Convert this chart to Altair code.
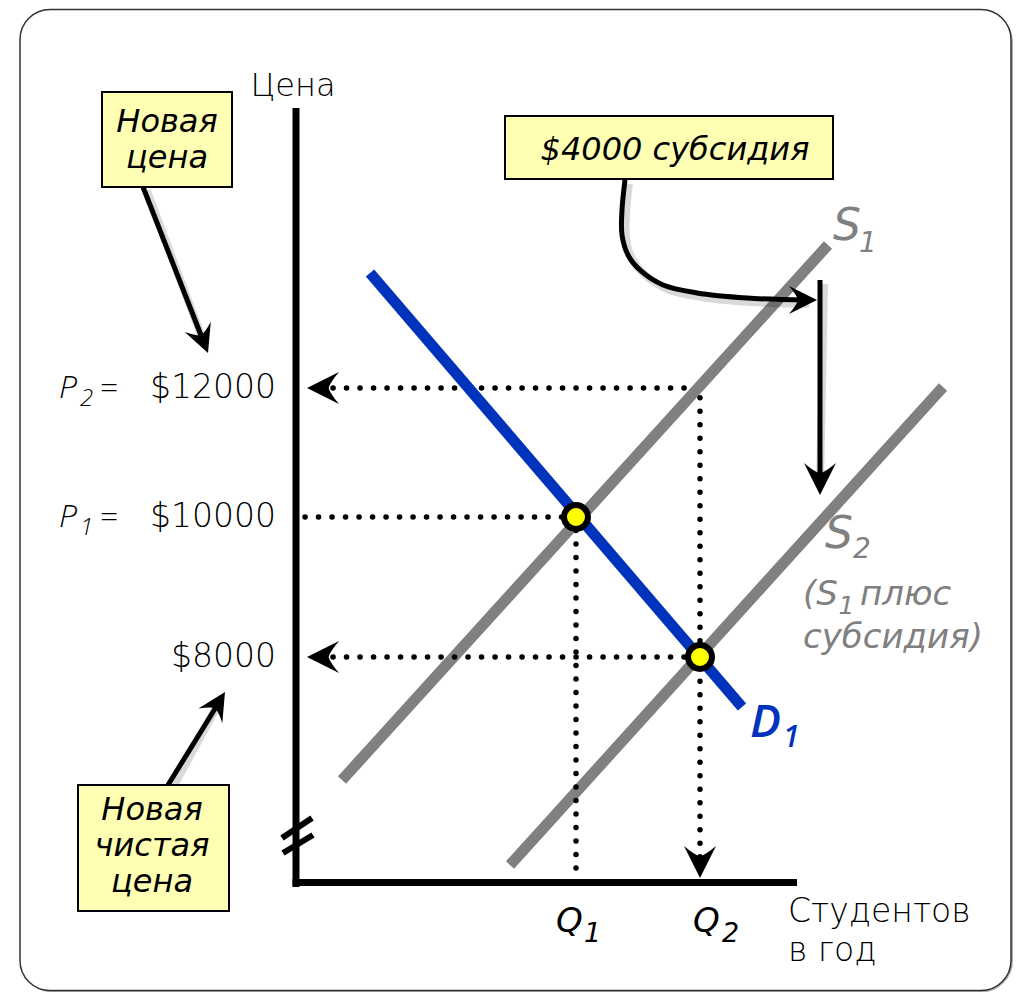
import altair as alt
import pandas as pd

# ---------------- values ----------------
# quantity axis (students / year) and price axis ($) as drawn
Q_DOMAIN = [-1440, 3595]
P_DOMAIN = [3214, 8000, 10000, 12000, 17891]
P_RANGE = [984, 649, 509, 380, 0]

Q1, Q2 = 1400, 2020
P_NEW, P_OLD, P_NET = 12000, 10000, 8000
P_AXIS = 4780
P_AXIS_TOP = 16341
Q_AXIS_END = 2505

# supply / demand curves (endpoints)
S1_Q = [230, 2660]
S1_P = [6243, 14217]
S2_Q = [1070, 3235]
S2_P = [5029, 12016]
D1_Q = [370, 2230]
D1_P = [13783, 7286]

# equilibria
EQ_Q = [Q1, Q2]
EQ_P = [P_OLD, P_NET]

# dotted guide lines
DOT_Q = [185, Q2, 45, Q1, 185]
DOT_P = [P_NEW, 11850, P_OLD, P_OLD, P_NET]
DOT_Q2 = [2000, Q2, Q1, Q1, Q2]
DOT_P2 = [P_NEW, 5143, P_OLD, 4814, P_NET]

# axis lines
AX_Q = [0, -17]
AX_P = [4714, P_AXIS]
AX_Q2 = [0, Q_AXIS_END]
AX_P2 = [P_AXIS_TOP, P_AXIS]

# axis break slashes
SL_Q = [-70, -65]
SL_P = [5414, 5200]
SL_Q2 = [80, 85]
SL_P2 = [5700, 5457]

# straight arrows (shaft)
AR_Q = [-765, -640, 2620]
AR_P = [15116, 6171, 13674]
AR_Q2 = [-455, -375, 2620]
AR_P2 = [12659, 7400, 10465]

# curved arrow from the subsidy box
CV_Q = [1645, 1630, 1630, 1660, 1725, 1835, 2005, 2255, 2545]
CV_P = [15225, 14760, 14372, 14062, 13814, 13597, 13473, 13395, 13364]

# arrow heads (tip, direction, size)
HD_Q = [55, 55, Q2, 2620, 2605, -440, -355]
HD_P = [P_NEW, P_NET, 4843, 10341, 13364, 12543, 7500]
HD_ANGLE = [180, 180, 90, 90, 0, 68.6, 301.5]
HD_SIZE = [1024, 1024, 1024, 1024, 784, 784, 784]

# note boxes
BOX_Q = [-970, 1045, -1090]
BOX_Q2 = [-320, 2685, -335]
BOX_P = [16589, 16217, 6171]
BOX_P2 = [15116, 15240, 4371]
BOX_TEXT = ["Новая\nцена", "$4000 субсидия", "Новая\nчистая\nцена"]
BOX_TQ = [-645, 1895, -720]
BOX_TP = [15969, 15535, 5671]

# frame
FR_Q, FR_Q2 = -1380, 3575
FR_P, FR_P2 = 17868, 3236

# price labels
PRICE_LEVELS = [P_NEW, P_OLD, P_NET]
PRICE_TEXT = ["$12000", "$10000", "$8000"]
PRICE_LABEL_Q = -100
PREFIX_LEVELS = [P_NEW, P_OLD]
PREFIX_SUB = ["2", "1"]

GRAY = "#808080"
BLUE = "#0033BB"
FONT = "DejaVu Sans"
FONT_B = "Open Sans"

XS = alt.Scale(domain=Q_DOMAIN, range=[0, 1007], nice=False, zero=False)
YS = alt.Scale(domain=P_DOMAIN, range=P_RANGE, nice=False, zero=False)


def X(f="q"):
    return alt.X(f + ":Q", scale=XS, axis=None)


def Y(f="p"):
    return alt.Y(f + ":Q", scale=YS, axis=None)


def segs(q, p, q2, p2):
    return pd.DataFrame({"q": q, "p": p, "q2": q2, "p2": p2})


def rules(df, **kw):
    return alt.Chart(df).mark_rule(**kw).encode(
        x=X(), y=Y(), x2=alt.X2("q2"), y2=alt.Y2("p2"))


def texts(q, p, t, **kw):
    df = pd.DataFrame({"q": q, "p": p, "t": t})
    base = dict(font=FONT, align="left", baseline="alphabetic")
    base.update(kw)
    return alt.Chart(df).mark_text(**base).encode(x=X(), y=Y(), text="t:N")


layers = []

# frame with shadow
frame = segs([FR_Q], [FR_P], [FR_Q2], [FR_P2])
layers.append(alt.Chart(frame).mark_rect(
    cornerRadius=30, fill="white", stroke="#9a9a9a", strokeWidth=4,
    xOffset=3, yOffset=3, opacity=0.8).encode(
    x=X(), y=Y(), x2=alt.X2("q2"), y2=alt.Y2("p2")))
layers.append(alt.Chart(frame).mark_rect(
    cornerRadius=30, fill="white", stroke="#333333", strokeWidth=1.5).encode(
    x=X(), y=Y(), x2=alt.X2("q2"), y2=alt.Y2("p2")))

# supply curves
layers.append(rules(segs([S1_Q[0], S2_Q[0]], [S1_P[0], S2_P[0]],
                         [S1_Q[1], S2_Q[1]], [S1_P[1], S2_P[1]]),
                    color=GRAY, strokeWidth=11))

# dotted guides
layers.append(rules(segs(DOT_Q, DOT_P, DOT_Q2, DOT_P2), color="black",
                    strokeWidth=5.5, strokeCap="round", strokeDash=[0.1, 13.4]))

# demand curve
layers.append(rules(segs([D1_Q[0]], [D1_P[0]], [D1_Q[1]], [D1_P[1]]),
                    color=BLUE, strokeWidth=11))

# axes and break
layers.append(rules(segs(AX_Q, AX_P, AX_Q2, AX_P2), color="black", strokeWidth=7))
layers.append(rules(segs(SL_Q, SL_P, SL_Q2, SL_P2), color="black", strokeWidth=6))

# equilibrium points
layers.append(alt.Chart(pd.DataFrame({"q": EQ_Q, "p": EQ_P})).mark_point(
    shape="circle", filled=True, fill="#FFFF00", stroke="black", strokeWidth=6,
    size=576, opacity=1).encode(x=X(), y=Y()))

# arrows: shadows then shafts
arr = segs(AR_Q, AR_P, AR_Q2, AR_P2)
curve = pd.DataFrame({"q": CV_Q, "p": CV_P, "i": list(range(len(CV_Q)))})
layers.append(rules(arr, color="#000000", opacity=0.15, strokeWidth=8, xOffset=4, yOffset=4))
layers.append(alt.Chart(curve).mark_line(
    interpolate="catmull-rom", color="#000000", opacity=0.15, strokeWidth=8,
    xOffset=4, yOffset=4).encode(x=X(), y=Y(), order="i:O"))
layers.append(rules(arr, color="black", strokeWidth=5))
layers.append(alt.Chart(curve).mark_line(
    interpolate="catmull-rom", color="black", strokeWidth=5).encode(
    x=X(), y=Y(), order="i:O"))

heads = pd.DataFrame({"q": HD_Q, "p": HD_P, "a": HD_ANGLE, "s": HD_SIZE})
HEAD_PATH = "M0,0L-2,-1Q-1.45,-0.35,-1.35,0Q-1.45,0.35,-2,1Z"
layers.append(alt.Chart(heads).mark_point(
    shape=HEAD_PATH, filled=True, color="black", opacity=1, strokeWidth=0).encode(
    x=X(), y=Y(), angle=alt.Angle("a:Q", scale=None), size=alt.Size("s:Q", scale=None)))

# note boxes
boxes = segs(BOX_Q, BOX_P, BOX_Q2, BOX_P2)
for off, op in [(8, 0.10), (6, 0.15), (4, 0.2)]:
    layers.append(alt.Chart(boxes).mark_rect(
        fill="black", opacity=op, xOffset=off, yOffset=off).encode(
        x=X(), y=Y(), x2=alt.X2("q2"), y2=alt.Y2("p2")))
layers.append(alt.Chart(boxes).mark_rect(
    fill="#FFFFB3", stroke="black", strokeWidth=2).encode(
    x=X(), y=Y(), x2=alt.X2("q2"), y2=alt.Y2("p2")))
layers.append(texts(BOX_TQ, BOX_TP, BOX_TEXT, align="center", fontSize=32,
                    fontStyle="italic", lineBreak="\n", lineHeight=36, color="black"))

# axis titles
layers.append(texts([-15], [16527], ["Цена"], align="center", fontSize=32,
                    fontWeight=200, color="black"))
layers.append(texts([2460], [P_AXIS], ["Студентов\nв год"], fontSize=33,
                    fontWeight=200, color="black", lineBreak="\n", lineHeight=39, dy=40))

# price labels
layers.append(texts([PRICE_LABEL_Q] * 3, PRICE_LEVELS, PRICE_TEXT, align="right",
                    fontSize=33, fontWeight=200, color="black", dy=10))
layers.append(texts([-1185] * 2, PREFIX_LEVELS, ["P", "P"], font=FONT_B, fontSize=32,
                    fontStyle="italic", fontWeight=300, color="black", dy=10))
layers.append(texts([-1080] * 2, PREFIX_LEVELS, PREFIX_SUB, font=FONT_B, fontSize=24,
                    fontStyle="italic", fontWeight=300, color="black", dy=18))
layers.append(texts([-980] * 2, PREFIX_LEVELS, ["=", "="], font=FONT_B, fontSize=32,
                    fontWeight=300, color="black", dy=10))

# quantity labels
layers.append(texts([1300, 1985], [P_AXIS] * 2, ["Q", "Q"], fontSize=34,
                    fontStyle="italic", color="black", dy=50))
layers.append(texts([1440, 2130], [P_AXIS] * 2, ["1", "2"], fontSize=27,
                    fontStyle="italic", color="black", dy=60))

# curve labels
layers.append(texts([2685, 2645], [14295, 9557], ["S", "S"], fontSize=44,
                    fontStyle="italic", color=GRAY))
layers.append(texts([2815, 2785], [14109, 9414], ["1", "2"], fontSize=28,
                    fontStyle="italic", color=GRAY))
layers.append(texts([2535, 2820, 2535], [8743, 8743, 8129], ["(S", "плюс", "субсидия)"],
                    fontSize=34, fontStyle="italic", color=GRAY))
layers.append(texts([2712], [8620], ["1"], fontSize=25, fontStyle="italic", color=GRAY))
layers.append(texts([2270], [6857], ["D"], font=FONT_B, fontSize=46, fontStyle="italic",
                    fontWeight=600, color=BLUE))
layers.append(texts([2435], [6714], ["1"], font=FONT_B, fontSize=30, fontStyle="italic",
                    fontWeight=600, color=BLUE))

chart = alt.layer(*layers).properties(
    width=1007, height=984,
    autosize=alt.AutoSizeParams(type="none"),
    padding=0,
    background="white",
).configure_view(stroke=None)

chart.save("out.html", embed_options={"renderer": "svg", "actions": False})
